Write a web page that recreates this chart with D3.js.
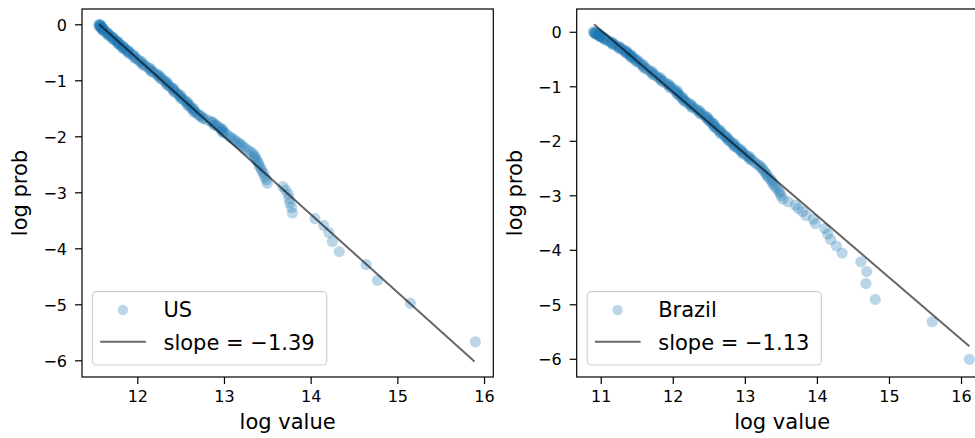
<!DOCTYPE html>
<html><head><meta charset="utf-8">
<script src="https://cdn.jsdelivr.net/npm/d3@7"></script>
<style>
body{margin:0;background:#fff}
svg{display:block}
text{font-family:"DejaVu Sans",sans-serif;fill:#000}
</style>
</head><body>
<svg id="chart" width="975" height="438"></svg>
<script>
// ---- data ----
const usPoints = [
[11.56,0],[11.56,-0.01],[11.57,-0.02],[11.57,-0.03],[11.58,-0.04],[11.58,-0.05],[11.59,-0.06],[11.59,-0.07],[11.60,-0.08],[11.60,-0.09],[11.61,-0.10],
[11.62,-0.12],[11.64,-0.14],[11.65,-0.16],[11.67,-0.18],[11.68,-0.20],[11.70,-0.22],[11.71,-0.24],[11.73,-0.26],[11.74,-0.28],[11.76,-0.30],
[11.77,-0.32],[11.78,-0.34],[11.80,-0.36],[11.81,-0.38],[11.83,-0.40],[11.84,-0.42],[11.86,-0.44],[11.87,-0.46],[11.89,-0.48],[11.90,-0.50],
[11.93,-0.53],[11.95,-0.56],[11.97,-0.59],[12.00,-0.62],[12.02,-0.65],[12.04,-0.68],[12.07,-0.71],[12.09,-0.74],[12.12,-0.77],[12.14,-0.80],
[12.17,-0.83],[12.19,-0.86],[12.22,-0.89],[12.24,-0.92],[12.27,-0.95],[12.29,-0.98],[12.31,-1.01],[12.33,-1.04],[12.35,-1.07],[12.37,-1.10],
[12.39,-1.13],[12.41,-1.16],[12.43,-1.19],[12.45,-1.22],[12.47,-1.25],[12.49,-1.28],[12.51,-1.31],[12.53,-1.34],[12.55,-1.37],[12.57,-1.40],
[12.59,-1.43],[12.61,-1.46],[12.62,-1.49],[12.64,-1.52],[12.66,-1.55],[12.68,-1.58],[12.70,-1.61],[12.72,-1.64],[12.76,-1.67],[12.80,-1.70],
[12.84,-1.73],[12.87,-1.76],[12.90,-1.79],[12.93,-1.82],[12.95,-1.85],[12.97,-1.88],[12.99,-1.91],[13.01,-1.94],[13.04,-1.97],
[13.07,-2.01],[13.09,-2.03],[13.12,-2.06],[13.14,-2.09],[13.17,-2.12],[13.19,-2.14],[13.21,-2.17],[13.24,-2.20],[13.27,-2.24],[13.30,-2.27],
[13.33,-2.30],[13.35,-2.34],[13.36,-2.37],[13.37,-2.41],[13.39,-2.45],[13.40,-2.49],[13.41,-2.54],[13.43,-2.58],[13.44,-2.63],[13.46,-2.67],
[13.47,-2.73],[13.49,-2.78],[13.50,-2.84],[13.68,-2.90],[13.71,-2.96],[13.74,-3.03],[13.75,-3.11],[13.76,-3.19],[13.78,-3.27],[13.79,-3.37],
[14.05,-3.47],[14.15,-3.59],[14.21,-3.72],[14.25,-3.88],[14.33,-4.06],[14.64,-4.29],[14.77,-4.57],[15.15,-4.98],[15.90,-5.67],
// points in the dense band (spread across its width)
[11.58,-0.015],[11.56,-0.045],[11.61,-0.075],[11.60,-0.11],[11.66,-0.15],[11.66,-0.19],[11.72,-0.23],[11.72,-0.27],[11.78,-0.31],[11.78,-0.35],
[11.84,-0.39],[11.83,-0.43],[11.90,-0.47],[11.90,-0.515],[11.96,-0.545],[11.97,-0.605],[12.05,-0.665],[12.06,-0.725],[12.15,-0.785],[12.16,-0.845],
[12.25,-0.905],[12.26,-0.965],[12.34,-1.025],[12.34,-1.085],[12.42,-1.145],[12.42,-1.205],[12.50,-1.265],[12.50,-1.325],[12.58,-1.385],[12.58,-1.445],
[12.65,-1.505],[12.65,-1.565],[12.73,-1.625],[12.76,-1.685],[12.87,-1.745],[12.89,-1.805],[12.98,-1.865],[12.98,-1.925]
];
const brPoints = [
[10.90,0],[10.91,-0.01],[10.92,-0.02],[10.93,-0.03],[10.95,-0.04],[10.96,-0.05],[10.97,-0.06],[10.98,-0.07],[10.99,-0.08],[11.01,-0.09],[11.02,-0.10],
[11.04,-0.12],[11.07,-0.14],[11.10,-0.16],[11.12,-0.18],[11.15,-0.20],[11.17,-0.22],[11.20,-0.24],[11.22,-0.26],[11.25,-0.28],[11.27,-0.30],
[11.30,-0.32],[11.32,-0.34],[11.34,-0.36],[11.36,-0.38],[11.38,-0.40],[11.40,-0.42],[11.42,-0.44],[11.43,-0.46],[11.45,-0.48],[11.47,-0.50],
[11.50,-0.53],[11.53,-0.56],[11.56,-0.59],[11.58,-0.62],[11.61,-0.65],[11.64,-0.68],[11.67,-0.71],[11.70,-0.74],[11.73,-0.77],[11.76,-0.80],
[11.79,-0.83],[11.82,-0.86],[11.85,-0.89],[11.88,-0.92],[11.91,-0.95],[11.94,-0.98],[11.97,-1.01],[12.00,-1.04],[12.03,-1.07],[12.05,-1.10],
[12.07,-1.13],[12.09,-1.16],[12.11,-1.19],[12.13,-1.22],[12.16,-1.25],[12.18,-1.28],[12.21,-1.31],[12.24,-1.34],[12.27,-1.37],[12.30,-1.40],
[12.33,-1.43],[12.36,-1.46],[12.39,-1.49],[12.42,-1.52],[12.45,-1.55],[12.47,-1.58],[12.50,-1.61],[12.52,-1.64],[12.54,-1.67],[12.56,-1.70],
[12.58,-1.73],[12.60,-1.76],[12.62,-1.79],[12.65,-1.82],[12.67,-1.85],[12.70,-1.88],[12.72,-1.91],[12.74,-1.94],[12.77,-1.97],[12.79,-2.00],
[12.81,-2.03],[12.84,-2.06],[12.86,-2.09],[12.89,-2.12],[12.91,-2.15],[12.94,-2.18],[12.97,-2.21],[12.99,-2.24],[13.02,-2.27],[13.05,-2.30],
[13.08,-2.33],[13.11,-2.36],
[13.14,-2.40],[13.17,-2.43],[13.20,-2.45],[13.22,-2.48],[13.24,-2.51],[13.26,-2.54],[13.28,-2.58],[13.30,-2.61],[13.31,-2.64],[13.33,-2.68],
[13.36,-2.71],[13.38,-2.75],[13.39,-2.79],[13.41,-2.83],[13.44,-2.87],[13.47,-2.92],[13.49,-2.96],[13.50,-3.01],[13.53,-3.07],[13.60,-3.12],
[13.70,-3.18],[13.74,-3.24],[13.80,-3.30],[13.85,-3.37],[13.95,-3.44],[13.98,-3.52],[14.11,-3.61],[14.15,-3.71],[14.19,-3.81],[14.27,-3.93],
[14.35,-4.06],[14.61,-4.22],[14.69,-4.40],[14.68,-4.62],[14.81,-4.91],[15.60,-5.32],[16.115,-6.01],
// points in the dense band (spread across its width)
[10.93,-0.015],[10.92,-0.035],[10.99,-0.055],[10.98,-0.085],[11.05,-0.11],[11.06,-0.15],[11.16,-0.19],[11.16,-0.23],[11.26,-0.27],[11.26,-0.31],
[11.36,-0.35],[11.35,-0.39],[11.43,-0.43],[11.42,-0.47],[11.51,-0.515],[11.49,-0.545],[11.59,-0.605],[11.60,-0.665],[11.71,-0.725],[11.72,-0.785],
[11.83,-0.845],[11.84,-0.905],[11.95,-0.965],[11.96,-1.025],[12.07,-1.085],[12.06,-1.145],[12.14,-1.205],[12.15,-1.265],[12.25,-1.325],[12.26,-1.385],
[12.37,-1.445],[12.38,-1.505],[12.48,-1.565],[12.49,-1.625],[12.57,-1.685],[12.57,-1.745],[12.66,-1.805],[12.66,-1.865],[12.75,-1.925],[12.76,-1.985],
[12.85,-2.045],[12.85,-2.105],[12.95,-2.165],[12.96,-2.225],[13.06,-2.285],[13.07,-2.345]
];
const usFit = [[11.56,0.0],[15.89,-6.02]];
const brFit = [[10.907,0.138],[16.115,-5.77]];
const usXTicks = [12,13,14,15,16];
const brXTicks = [11,12,13,14,15,16];
const yTicks = [0,-1,-2,-3,-4,-5,-6];
const seriesNames = ["US","Brazil"];
const slopes = [-1.39,-1.13];
const xTitle = "log value", yTitle = "log prob";

// ---- layout ----
const panels = [
  {name:seriesNames[0], slope:slopes[0], pts:usPoints, fit:usFit, xt:usXTicks,
   x0:82, x1:493.3, xd:[11.362,16.107], yd:[-6.298,0.273], ylab:20},
  {name:seriesNames[1], slope:slopes[1], pts:brPoints, fit:brFit, xt:brXTicks,
   x0:576.7, x1:987.7, xd:[10.667,16.37], yd:[-6.334,0.418], ylab:515}
];
const Y0 = 9, Y1 = 377;
const blue = "#1f77b4";
const svg = d3.select("#chart");
const fmt = d3.format("d");

panels.forEach((p,i) => {
  const x = d3.scaleLinear().domain(p.xd).range([p.x0,p.x1]);
  const y = d3.scaleLinear().domain(p.yd).range([Y1,Y0]);
  const g = svg.append("g");
  const cid = "clip"+i;
  svg.append("clipPath").attr("id",cid).append("rect")
    .attr("x",p.x0).attr("y",Y0).attr("width",p.x1-p.x0).attr("height",Y1-Y0);
  const plot = g.append("g").attr("clip-path",`url(#${cid})`);
  plot.selectAll("circle").data(p.pts).join("circle")
    .attr("cx",d=>x(d[0])).attr("cy",d=>y(d[1])).attr("r",5.6)
    .attr("fill",blue).attr("fill-opacity",0.3);
  plot.append("path").datum(p.fit)
    .attr("d",d3.line().x(d=>x(d[0])).y(d=>y(d[1])))
    .attr("stroke","#000").attr("stroke-opacity",0.6).attr("stroke-width",2).attr("fill","none");

  // axes
  const xa = g.append("g").attr("transform",`translate(0,${Y1})`)
    .call(d3.axisBottom(x).tickValues(p.xt).tickFormat(fmt).tickSize(7).tickSizeOuter(0));
  const ya = g.append("g").attr("transform",`translate(${p.x0},0)`)
    .call(d3.axisLeft(y).tickValues(yTicks).tickFormat(fmt).tickSize(7).tickSizeOuter(0));
  [xa,ya].forEach(a=>{ a.select(".domain").remove(); a.selectAll("line").attr("stroke","#000").attr("stroke-width",1.2);});
  xa.selectAll("text").attr("y",25).attr("dy",0).attr("font-size",16).attr("fill","#000");
  ya.selectAll("text").attr("x",-15).attr("dy","0.36em").attr("font-size",16).attr("fill","#000");
  // spines
  g.append("rect").attr("x",p.x0).attr("y",Y0).attr("width",p.x1-p.x0).attr("height",Y1-Y0)
    .attr("fill","none").attr("stroke","#000").attr("stroke-width",1.2);
  // axis titles
  g.append("text").attr("x",(p.x0+p.x1)/2).attr("y",429).attr("text-anchor","middle")
    .attr("font-size",21).text(xTitle);
  g.append("text").attr("transform",`translate(${p.ylab+7},${(Y0+Y1)/2}) rotate(-90)`)
    .attr("text-anchor","middle").attr("font-size",21).text(yTitle);

  // legend
  const lx = p.x0+10.5, ly = 291.7;
  const lg = g.append("g");
  const lt1 = lg.append("text").attr("x",lx+71).attr("y",317).attr("font-size",21).text(p.name);
  const lt2 = lg.append("text").attr("x",lx+71).attr("y",349.5).attr("font-size",21)
    .text("slope = " + d3.format(".2f")(p.slope));
  const w = Math.max(lt1.node().getComputedTextLength(), lt2.node().getComputedTextLength());
  lg.insert("rect","text").attr("x",lx).attr("y",ly).attr("width",71+w+12).attr("height",73.3)
    .attr("rx",4).attr("fill","#fff").attr("fill-opacity",0.8).attr("stroke","#d0d0d0").attr("stroke-width",1.2);
  lg.insert("circle","text").attr("cx",lx+30.4).attr("cy",310).attr("r",5.2)
    .attr("fill",blue).attr("fill-opacity",0.3);
  lg.insert("line","text").attr("x1",lx+7.7).attr("x2",lx+53.4).attr("y1",341.7).attr("y2",341.7)
    .attr("stroke","#000").attr("stroke-opacity",0.6).attr("stroke-width",2);
});
</script>
</body></html>
